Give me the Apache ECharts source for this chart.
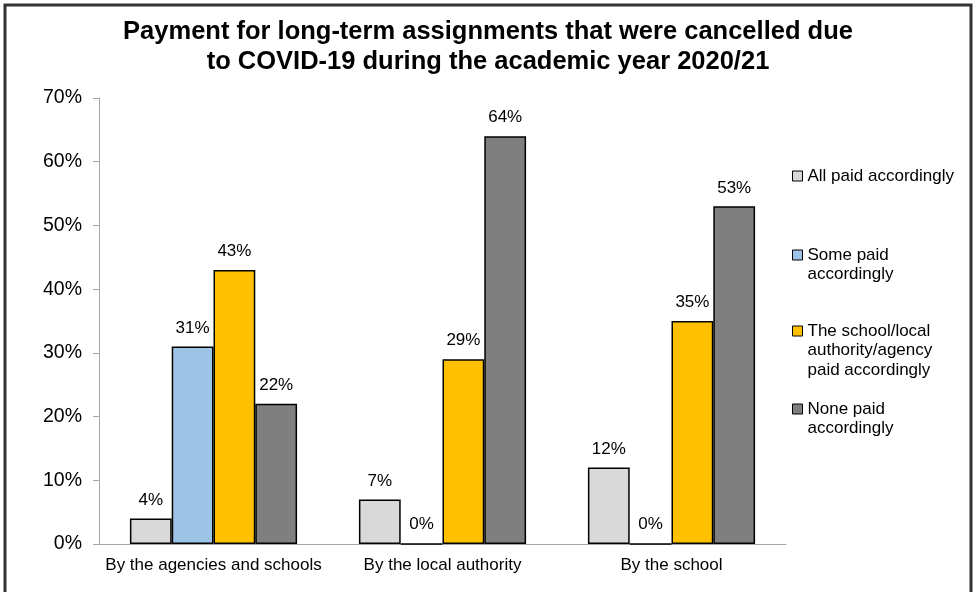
<!DOCTYPE html>
<html><head><meta charset="utf-8">
<script src="https://cdn.jsdelivr.net/npm/echarts@6/dist/echarts.min.js"></script>
<style>html,body{margin:0;padding:0;background:#fff}#c{width:977px;height:592px}</style>
</head><body><div id="c"></div>
<script>
const categories = ['By the agencies and schools', 'By the local authority', 'By the school'];
const seriesNames = ['All paid accordingly', 'Some paid\naccordingly', 'The school/local\nauthority/agency\npaid accordingly', 'None paid\naccordingly'];
const allPaid = [4, 7, 12];
const somePaid = [31, 0, 0];
const schoolPaid = [43, 29, 35];
const nonePaid = [22, 64, 53];
const yTicks = [0, 10, 20, 30, 40, 50, 60, 70];

const colors = ['#D9D9D9', '#9DC3E6', '#FFC000', '#7F7F7F'];
const values = [allPaid, somePaid, schoolPaid, nonePaid];
const font = 'Liberation Sans, Arial, sans-serif';
const LH = 19.5;
const legendCenters = [176, 255, 331, 409];

const chart = echarts.init(document.getElementById('c'), null, {renderer: 'canvas'});
chart.setOption({
  animation: false,
  title: {
    text: 'Payment for long-term assignments that were cancelled due\nto COVID-19 during the academic year 2020/21',
    left: 488, textAlign: 'center', top: 17, padding: 0,
    textStyle: {fontFamily: font, fontWeight: 'bold', fontSize: 25.5, lineHeight: 30, color: '#000'}
  },
  legend: seriesNames.map((n, i) => {
    const lines = n.split('\n').length;
    return {
      data: [n], orient: 'vertical', left: 792, padding: 0,
      top: legendCenters[i] - (2 * lines - 1) * LH / 2,
      itemWidth: 10, itemHeight: 10, itemGap: 0,
      icon: 'rect',
      formatter: name => ' \n'.repeat(lines - 1) + name,
      textStyle: {fontFamily: font, fontSize: 17, lineHeight: LH, color: '#000'},
      itemStyle: {borderColor: '#000', borderWidth: 1}
    };
  }),
  grid: {left: 99, right: 191, top: 98, bottom: 48},
  xAxis: {
    type: 'category', data: categories,
    axisLine: {lineStyle: {color: '#A6A6A6', width: 1}},
    axisTick: {show: false},
    axisLabel: {fontFamily: font, fontSize: 17, color: '#000', margin: 13, interval: 0}
  },
  yAxis: {
    type: 'value', min: 0, max: 70, interval: 10,
    axisLine: {show: true, lineStyle: {color: '#A6A6A6', width: 1}},
    axisTick: {show: true, length: 6, lineStyle: {color: '#A6A6A6'}},
    splitLine: {show: false},
    axisLabel: {fontFamily: font, fontSize: 19.5, color: '#000', margin: 17,
      formatter: v => yTicks.includes(v) ? v + '%' : ''}
  },
  series: seriesNames.map((n, i) => ({
    name: n, type: 'bar', data: values[i],
    barGap: '0%', barCategoryGap: '27%',
    itemStyle: {color: colors[i], borderColor: '#000', borderWidth: 1.5},
    label: {show: true, position: 'top', distance: 10, formatter: '{c}%',
      fontFamily: font, fontSize: 17, color: '#000'}
  })),
  graphic: [{
    type: 'rect', shape: {x: 5, y: 5, width: 966, height: 600},
    style: {fill: 'none', stroke: '#333', lineWidth: 3}, silent: true, z: 100
  }]
});
</script></body></html>
